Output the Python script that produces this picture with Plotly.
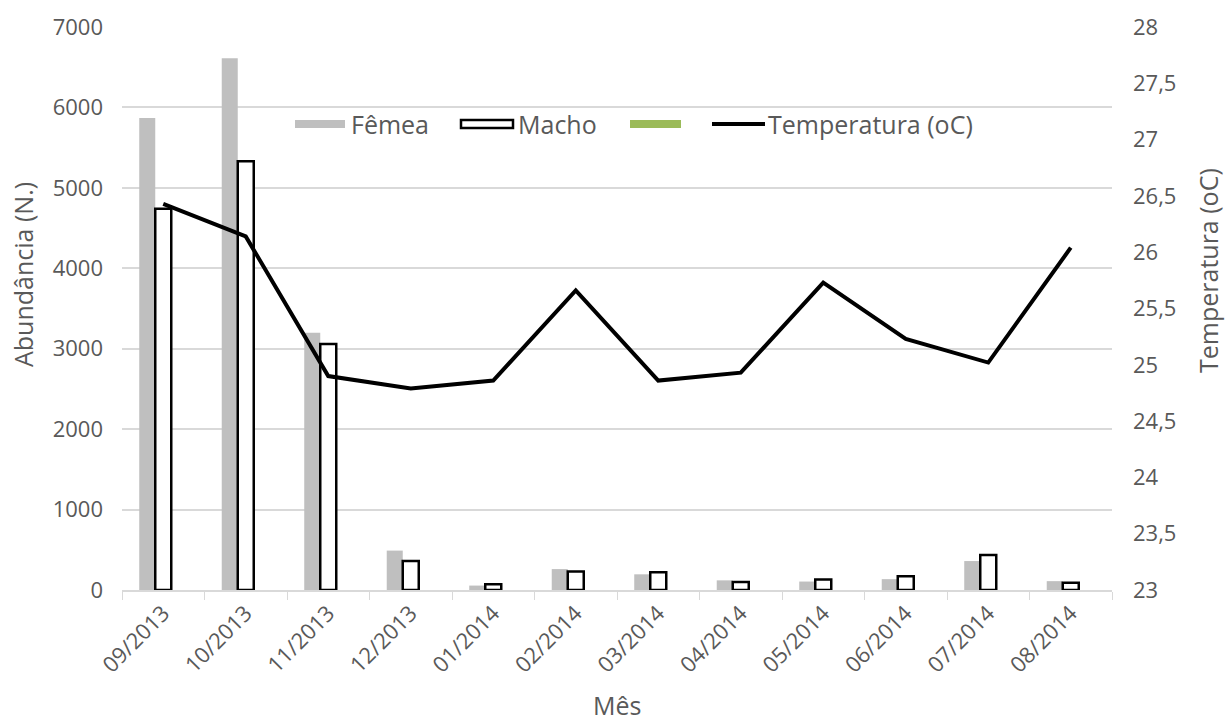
import plotly.graph_objects as go

meses = ["09/2013", "10/2013", "11/2013", "12/2013", "01/2014", "02/2014",
         "03/2014", "04/2014", "05/2014", "06/2014", "07/2014", "08/2014"]
femea = [5870, 6610, 3200, 490, 55, 260, 195, 120, 105, 135, 360, 110]
macho = [4740, 5330, 3060, 360, 70, 230, 220, 100, 130, 170, 435, 90]
terceira = [0, 0, 0, 0, 0, 0, 0, 0, 0, 0, 0, 0]
temperatura = [26.43, 26.14, 24.90, 24.79, 24.86, 25.66, 24.86, 24.93, 25.73, 25.23, 25.02, 26.04]

FONT = "Open Sans"
FS = 22
FS_TITLE = 25
TXT = "#595959"
GRID = "#d9d9d9"

fig = go.Figure()
fig.add_trace(go.Bar(x=meses, y=femea, name="Fêmea", marker=dict(color="#bfbfbf", line=dict(width=0)),
                     showlegend=False))
fig.add_trace(go.Bar(x=meses, y=macho, name="Macho",
                     marker=dict(color="white", line=dict(color="black", width=2.5)), showlegend=False))
fig.add_trace(go.Bar(x=meses, y=terceira, name=" ", marker=dict(color="#9bbb59", line=dict(width=0)),
                     showlegend=False))
fig.add_trace(go.Scatter(x=meses, y=temperatura, name="Temperatura (oC)", yaxis="y2", mode="lines",
                         line=dict(color="black", width=4), showlegend=False))

W, H = 1225, 723
ml, mr, mt, mb = 122, 113, 27, 133
pw, ph = W - ml - mr, H - mt - mb


def px(x):
    return (x - ml) / pw


def py(y):
    return (H - mb - y) / ph


def label(x, y, text, angle=0, anchor="center", size=FS_TITLE):
    return dict(xref="paper", yref="paper", x=px(x), y=py(y), text=text, textangle=angle,
                showarrow=False, xanchor=anchor, yanchor="middle",
                font=dict(family=FONT, size=size, color=TXT))


# legend drawn as wide swatches + labels
items = [
    (295, 345, dict(fillcolor="#bfbfbf", line=dict(width=0)), "Fêmea", 349),
    (461, 513, dict(fillcolor="white", line=dict(color="black", width=2.5)), "Macho", 516),
    (630, 681, dict(fillcolor="#9bbb59", line=dict(width=0)), "", None),
]
shapes = []
annotations = []
yc = 124
for x0, x1, style, text, tx in items:
    shapes.append(dict(type="rect", xref="paper", yref="paper", x0=px(x0), x1=px(x1),
                       y0=py(yc + 4), y1=py(yc - 4), **style))
    if text:
        annotations.append(label(tx, yc, text, anchor="left"))
shapes.append(dict(type="line", xref="paper", yref="paper", x0=px(712), x1=px(765),
                   y0=py(yc), y1=py(yc), line=dict(color="black", width=4)))
annotations.append(label(766, yc, "Temperatura (oC)", anchor="left"))

# axis titles
annotations.append(label(617, 705, "Mês"))
annotations.append(label(23, 275, "Abundância (N.)", angle=-90))
annotations.append(label(1208, 271, "Temperatura (oC)", angle=-90))

fig.update_layout(
    width=W, height=H,
    margin=dict(l=ml, r=mr, t=mt, b=mb),
    paper_bgcolor="white", plot_bgcolor="white",
    barmode="group", bargap=0.418, bargroupgap=0,
    separators=",.",
    font=dict(family=FONT, size=FS, color=TXT),
    shapes=shapes, annotations=annotations,
    xaxis=dict(type="category", tickangle=-45, showline=True, linecolor=GRID, linewidth=1.5,
               ticks="outside", tickson="boundaries", ticklen=8, tickcolor=GRID, showgrid=False),
    yaxis=dict(range=[0, 7000], dtick=1000, showgrid=True, gridcolor=GRID, gridwidth=1.5,
               zeroline=False, showline=False, ticks="", ticklabelstandoff=18),
    yaxis2=dict(range=[23, 28], dtick=0.5, overlaying="y", side="right", showgrid=False,
                zeroline=False, showline=False, ticks="", ticklabelstandoff=20),
)

fig.write_html("out.html")
